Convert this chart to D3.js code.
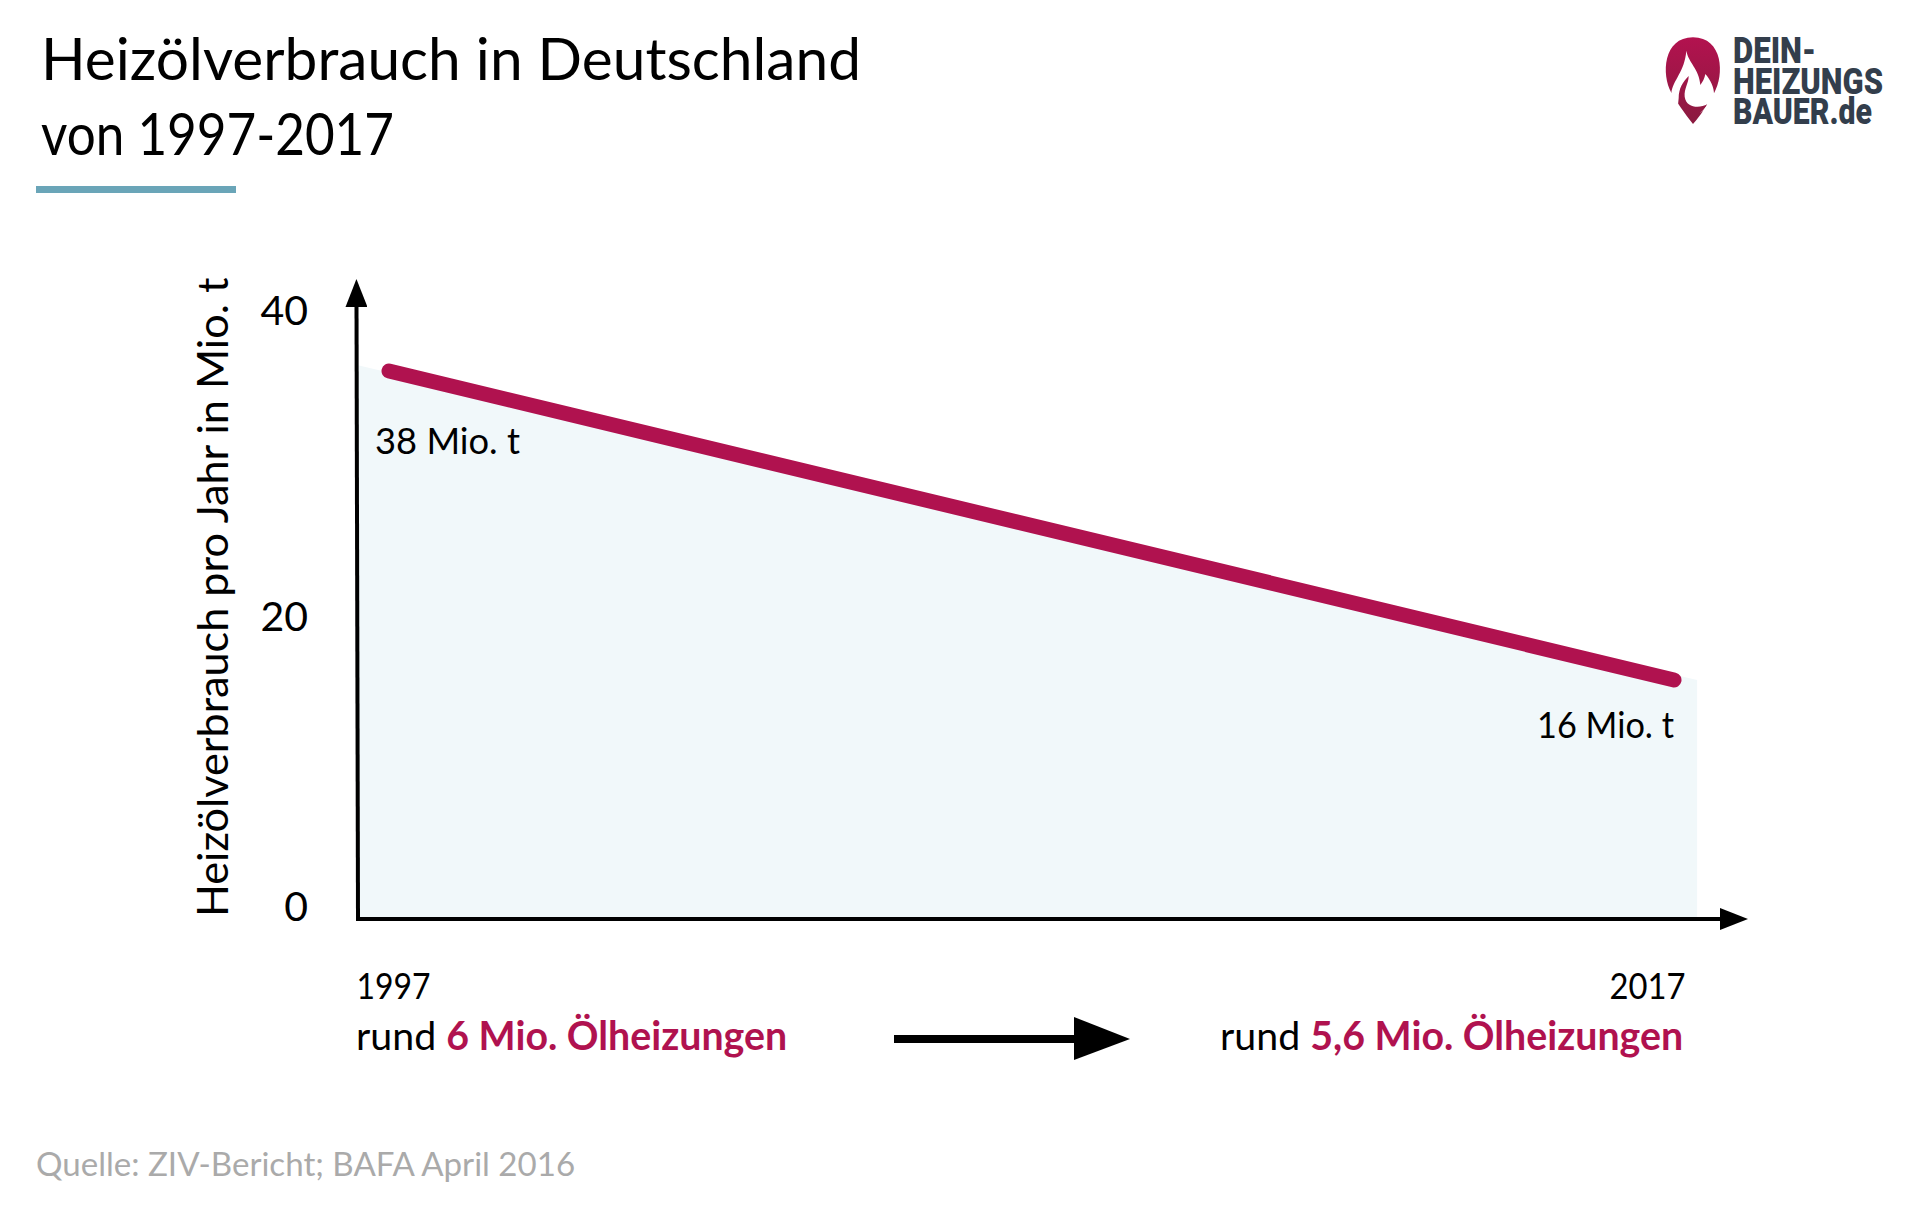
<!DOCTYPE html>
<html lang="de"><head><meta charset="utf-8">
<script src="https://cdn.jsdelivr.net/npm/d3@7"></script>
<style>
html,body{margin:0;padding:0;background:#fff}
svg{display:block}
text{font-family:Lato,"Noto Sans",sans-serif;fill:#000}
</style></head><body>
<svg id="c" width="1920" height="1228"></svg>
<script>
const titleLines = ["Heizölverbrauch in Deutschland", "von 1997-2017"];
const years = [1997, 2017];
const consumption = [38, 16];
const pointLabels = ["38 Mio. t", "16 Mio. t"];
const areaYears = [1996.5, 2017.36];
const areaValues = [38.2, 16];
const yTicks = [0, 20, 40];
const yTitle = "Heizölverbrauch pro Jahr in Mio. t";
const heatingPrefix = "rund ";
const heatingCounts = ["6 Mio. Ölheizungen", "5,6 Mio. Ölheizungen"];
const sourceNote = "Quelle: ZIV-Bericht; BAFA April 2016";
const logoLines = ["DEIN-", "HEIZUNGS", "BAUER.de"];

const RED = "#b0124f", BLUE = "#6aa5b8", FILL = "#f1f8fa", AXIS = "#000";
const svg = d3.select("#c");
const defs = svg.append("defs");

// Scales: the reference is hand-drawn, its value axis is not perfectly linear
const x = d3.scaleLinear().domain(years).range([389, 1674]);
const y = d3.scaleLinear().domain([0, 16, 20, 38, 40]).range([908, 680, 618, 371, 312]);
const axisY = 919;

// Title
svg.append("g").selectAll("text").data(titleLines).join("text")
  .attr("x", 41).attr("y", (d, i) => i ? 155 : 80)
  .attr("font-size", 59)
  .attr("textLength", (d, i) => i ? 353 : 820).attr("lengthAdjust", "spacingAndGlyphs")
  .text(d => d);
svg.append("rect").attr("x", 36).attr("y", 186).attr("width", 200).attr("height", 7).attr("fill", BLUE);

// Area and line
const series = years.map((yr, i) => ({yr, v: consumption[i]}));
const areaData = areaYears.map((yr, i) => ({yr, v: areaValues[i]}));
svg.append("path").datum(areaData).attr("fill", FILL)
  .attr("d", d3.area().x(d => x(d.yr)).y0(axisY).y1(d => y(d.v)));
svg.append("path").datum(series).attr("fill", "none").attr("stroke", RED)
  .attr("stroke-width", 15).attr("stroke-linecap", "round")
  .attr("d", d3.line().x(d => x(d.yr)).y(d => y(d.v)));

// Axis arrows
defs.append("marker").attr("id", "ah").attr("markerUnits", "userSpaceOnUse")
  .attr("viewBox", "0 0 28 22").attr("refX", 2).attr("refY", 11)
  .attr("markerWidth", 28).attr("markerHeight", 22).attr("orient", "auto")
  .append("path").attr("d", "M0,0L28,11L0,22Z").attr("fill", AXIS);
svg.append("line").attr("x1", 358).attr("y1", 921).attr("x2", 356.5).attr("y2", 305)
  .attr("stroke", AXIS).attr("stroke-width", 4).attr("marker-end", "url(#ah)");
svg.append("line").attr("x1", 356).attr("y1", axisY).attr("x2", 1722).attr("y2", axisY)
  .attr("stroke", AXIS).attr("stroke-width", 4).attr("marker-end", "url(#ah)");

// Value axis
const gy = svg.append("g").attr("transform", "translate(308,0)")
  .call(d3.axisLeft(y).tickValues(yTicks).tickSize(0).tickPadding(0).tickFormat(d3.format("d")));
gy.select(".domain").remove();
gy.selectAll("text").attr("font-size", 41).attr("font-family", "Lato").attr("fill", "#000")
  .attr("dy", "0.3em");
svg.append("text").attr("transform", "translate(228,917) rotate(-90)")
  .attr("font-size", 43.2).text(yTitle);

// Year axis
const gx = svg.append("g").attr("transform", "translate(0,999)")
  .call(d3.axisBottom(x).tickValues(years).tickSize(0).tickPadding(0).tickFormat(d3.format("d")));
gx.select(".domain").remove();
gx.selectAll("text").attr("font-size", 36).attr("font-family", "Lato").attr("fill", "#000")
  .attr("y", 0).attr("dy", 0)
  .attr("text-anchor", (d, i) => i ? "end" : "start")
  .attr("dx", (d, i) => i ? 11 : -33)
  .attr("textLength", (d, i) => i ? 76 : 74).attr("lengthAdjust", "spacingAndGlyphs");

// Point labels
svg.append("g").selectAll("text").data(pointLabels).join("text")
  .attr("font-size", 36)
  .attr("text-anchor", (d, i) => i ? "end" : "start")
  .attr("x", (d, i) => i ? x(years[1]) : 375)
  .attr("y", (d, i) => i ? 738 : 454)
  .attr("textLength", (d, i) => i ? 137 : 145).attr("lengthAdjust", "spacingAndGlyphs")
  .text(d => d);

// Heating counts
const hc = svg.append("g").selectAll("text").data(heatingCounts).join("text")
  .attr("font-size", 39.3)
  .attr("x", (d, i) => i ? 1220 : 356).attr("y", 1050);
hc.append("tspan").text(heatingPrefix);
hc.append("tspan").attr("font-weight", 700).style("fill", RED).text(d => d);

// Arrow between
svg.append("rect").attr("x", 894).attr("y", 1035).attr("width", 185).attr("height", 8).attr("fill", "#000");
svg.append("path").attr("d", "M1074,1017L1130,1039L1074,1060Z").attr("fill", "#000");

// Source
svg.append("text").attr("x", 36).attr("y", 1176).attr("font-size", 33.1)
  .style("fill", "#aaaaaa").text(sourceNote);

// Logo
const grad = defs.append("linearGradient").attr("id", "pin").attr("x1", 0).attr("y1", 0).attr("x2", 0).attr("y2", 1);
grad.append("stop").attr("offset", 0).attr("stop-color", "#b3124f");
grad.append("stop").attr("offset", 1).attr("stop-color", "#8a1a3f");
const logo = svg.append("g").attr("transform", "translate(1618,0) scale(0.33333)");
logo.append("path").attr("fill", "url(#pin)")
  .attr("d", "M225,372C200,340 175,305 160,278C130,225 135,112 225,112C315,112 320,225 288,280C270,310 250,345 225,372Z");
logo.append("path").attr("fill", "#fff")
  .attr("d", "M205,152C212,190 243,205 247,255C254,245 260,235 262,222C278,240 288,262 288,280L305,300L245,340C258,330 265,320 268,313C245,325 205,325 200,290C198,265 212,250 212,228C195,245 182,265 182,295L180,315L150,295L160,278C165,240 200,215 205,152Z");
const logoW = [83, 150, 139];
svg.append("g").selectAll("text").data(logoLines).join("text")
  .attr("x", 1733).attr("y", (d, i) => [63, 94, 124][i])
  .attr("textLength", (d, i) => logoW[i]).attr("lengthAdjust", "spacingAndGlyphs")
  .style("font-family", "Roboto").attr("font-weight", 900).attr("font-size", 37)
  .style("fill", "#333e4c").text(d => d);
</script></body></html>
